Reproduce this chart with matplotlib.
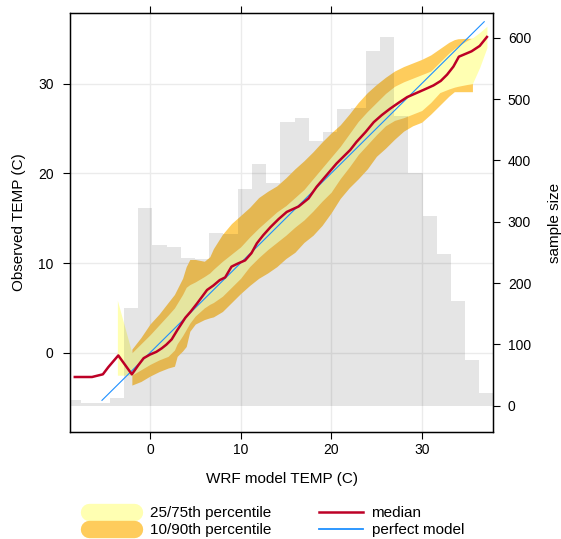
import matplotlib
matplotlib.use('Agg')
import matplotlib.pyplot as plt
import numpy as np
from matplotlib.lines import Line2D

plt.rcParams['font.family'] = ['Liberation Sans', 'DejaVu Sans']

# sample size histogram of modelled values (30 equal bins)
hist_start = -9.16
hist_width = 1.57
hist_counts = [9, 4, 5, 12, 160, 322, 262, 259, 241, 239,
               282, 280, 353, 394, 363, 462, 470, 431, 447, 484,
               486, 578, 601, 472, 379, 309, 247, 170, 75, 21]

# median of observed values
med_x = [-8.3, -6.4, -5.2, -4.6, -3.5, -2.0, -1.3, -0.7, 0.0, 0.7, 1.3, 1.8,
         2.4, 3.0, 3.9, 4.5, 5.2, 6.3, 7.0, 7.7, 8.3, 9.0, 9.6, 10.5, 11.2,
         11.8, 12.5, 13.3, 14.2, 15.1, 16.4, 17.5, 18.4, 19.5, 20.6, 21.4,
         22.1, 22.8, 23.8, 24.7, 25.6, 26.5, 27.5, 28.4, 29.3, 30.2, 31.3,
         32.1, 32.8, 33.5, 34.1, 34.8, 35.5, 36.4, 37.2]
med_y = [-2.7, -2.7, -2.4, -1.6, -0.3, -2.4, -1.4, -0.6, -0.2, 0.1, 0.5, 0.9,
         1.5, 2.5, 3.9, 4.6, 5.5, 7.0, 7.5, 8.1, 8.4, 9.6, 9.9, 10.3, 11.1,
         12.2, 13.1, 14.0, 14.9, 15.7, 16.3, 17.2, 18.5, 19.8, 21.1, 21.9,
         22.6, 23.5, 24.6, 25.7, 26.5, 27.2, 27.9, 28.5, 28.9, 29.3, 29.8,
         30.3, 31.0, 31.9, 33.0, 33.3, 33.6, 34.2, 35.2]

# percentiles of observed values
nan = np.nan
q_x = [-3.6, -2.0, -1, 0, 1, 2, 2.7, 3, 3.6, 4, 4.4, 5, 6, 6.6, 7,
       8, 9, 10, 11, 12, 13, 14, 15, 16, 17, 18, 19, 20, 21, 22, 23, 24,
       25, 26, 27, 28, 29, 30, 31, 32, 33, 33.6, 34, 35, 35.6, 36.4, 37.2]
q10 = [nan, -3.6, -3.2, -2.6, -2.1, -1.7, -1.5, -0.4, 0.2, 0.7, 2.4, 3.2, 3.7, 3.9, 4.0,
       4.6, 5.6, 6.6, 7.5, 8.3, 8.9, 9.6, 10.5, 11.2, 12.3, 13.1, 14.2, 15.6, 17.2, 18.4, 19.4, 20.5,
       21.9, 22.8, 23.8, 24.7, 25.3, 25.7, 26.6, 27.6, 28.6, 29.1, 29.1, 29.1, 29.1, nan, nan]
q25 = [-2.5, -2.5, -1.9, -1.3, -0.8, -0.4, 0.3, 1.0, 1.9, 2.6, 3.3, 4.1, 5.0, 5.4, 5.6,
       6.3, 7.3, 8.3, 9.6, 10.6, 11.5, 12.3, 13.1, 14.0, 14.8, 15.8, 16.9, 17.9, 19.4, 20.7, 22.1, 23.2,
       24.3, 25.3, 25.9, 26.2, 26.6, 27.0, 27.9, 29.0, 29.4, 29.6, 29.7, 29.9, 30.0, 31.8, 34.0]
q75 = [5.85, 0.0, 1.0, 2.0, 3.1, 4.2, 5.0, 5.5, 6.5, 7.3, 7.6, 7.9, 8.5, 8.9, 9.3,
       10.2, 11.0, 11.8, 12.9, 13.9, 14.8, 15.7, 16.4, 17.3, 18.2, 19.4, 20.6, 21.8, 23.0, 24.4, 25.8, 26.9,
       27.9, 28.9, 29.7, 30.2, 30.6, 31.0, 31.4, 32.4, 33.4, 33.9, 34.2, 34.8, 35.1, 35.7, 36.4]
q90 = [nan, 0.4, 1.7, 3.2, 4.3, 5.6, 6.5, 7.1, 8.3, 9.6, 10.4, 10.4, 10.2, 10.7, 11.6,
       13.2, 14.4, 15.3, 16.2, 17.3, 18.0, 18.6, 19.5, 20.5, 21.4, 22.4, 23.5, 24.5, 25.4, 26.6, 27.9, 29.0,
       29.9, 30.7, 31.4, 31.9, 32.3, 32.7, 33.2, 33.9, 34.6, 34.9, 35.0, 35.05, 35.05, nan, nan]

perfect_x = [-5.3, 36.9]

temp_ticks = [0, 10, 20, 30]
count_ticks = [0, 100, 200, 300, 400, 500, 600]

col_q1 = '#FFFFB2'
col_q2 = '#FECC5C'
col_med = '#BD0026'
col_perfect = '#1E90FF'

fig = plt.figure(figsize=(5.61, 5.39), dpi=100)
ax = fig.add_axes([70 / 561, 1 - 432 / 539, 423 / 561, 419 / 539])

lims = (-8.83, 37.87)
ax.set_xlim(lims)
ax.set_ylim(lims)
ax.set_axisbelow(True)
ax.grid(color='#EBEBEB', lw=1.0)
ax.fill_between(q_x, q10, q90, color=col_q2, lw=0)
ax.fill_between(q_x, q25, q75, color=col_q1, lw=0)

ax.set_xticks(temp_ticks)
ax.set_yticks(temp_ticks)
ax.tick_params(axis='x', top=True, direction='out', length=4.7, width=0.8,
               labelsize=10, pad=3.5)
ax.tick_params(axis='y', right=False, direction='out', length=4.7, width=0.8,
               labelsize=10, pad=7)
for s in ax.spines.values():
    s.set_linewidth(1.0)
ax.set_xlabel('WRF model TEMP (C)', fontsize=11)
ax.set_ylabel('Observed TEMP (C)', fontsize=11)
ax.xaxis.set_label_coords(0.5, -0.095)
ax.yaxis.set_label_coords(-0.105, 0.5)

# histogram on top, semi-transparent
axh = ax.twinx()
edges = hist_start + hist_width * np.arange(len(hist_counts) + 1)
axh.stairs(hist_counts, edges, fill=True, color='black', alpha=0.1, lw=0)
axh.set_ylim(-43, 640.5)
axh.set_yticks(count_ticks)
axh.tick_params(axis='y', direction='out', length=4.7, width=0.8,
                labelsize=10, pad=6)
axh.set_ylabel('sample size', fontsize=11)
axh.yaxis.set_label_coords(1.131, 0.5)

# lines above the histogram
axl = fig.add_axes(ax.get_position(), sharex=ax, sharey=ax)
axl.axis('off')
axl.patch.set_visible(False)
axl.plot(perfect_x, perfect_x, color=col_perfect, lw=0.8)
axl.plot(med_x, med_y, color=col_med, lw=1.8)

# key
def fx(px):
    return px / 561


def fy(py):
    return 1 - py / 539


fig.add_artist(Line2D([fx(89), fx(134)], [fy(512), fy(512)], color=col_q1,
                      lw=12.5, solid_capstyle='round'))
fig.add_artist(Line2D([fx(89), fx(134)], [fy(528.5), fy(528.5)], color=col_q2,
                      lw=12.5, solid_capstyle='round'))
fig.add_artist(Line2D([fx(319), fx(363)], [fy(511.7), fy(511.7)], color=col_med,
                      lw=1.8))
fig.add_artist(Line2D([fx(319), fx(363)], [fy(529), fy(529)], color=col_perfect,
                      lw=1.3))
fig.text(fx(150.5), fy(513), '25/75th percentile', fontsize=11, va='center')
fig.text(fx(150.5), fy(530), '10/90th percentile', fontsize=11, va='center')
fig.text(fx(371.5), fy(513), 'median', fontsize=11, va='center')
fig.text(fx(371.5), fy(530), 'perfect model', fontsize=11, va='center')

fig.savefig('out.png', dpi=100)
